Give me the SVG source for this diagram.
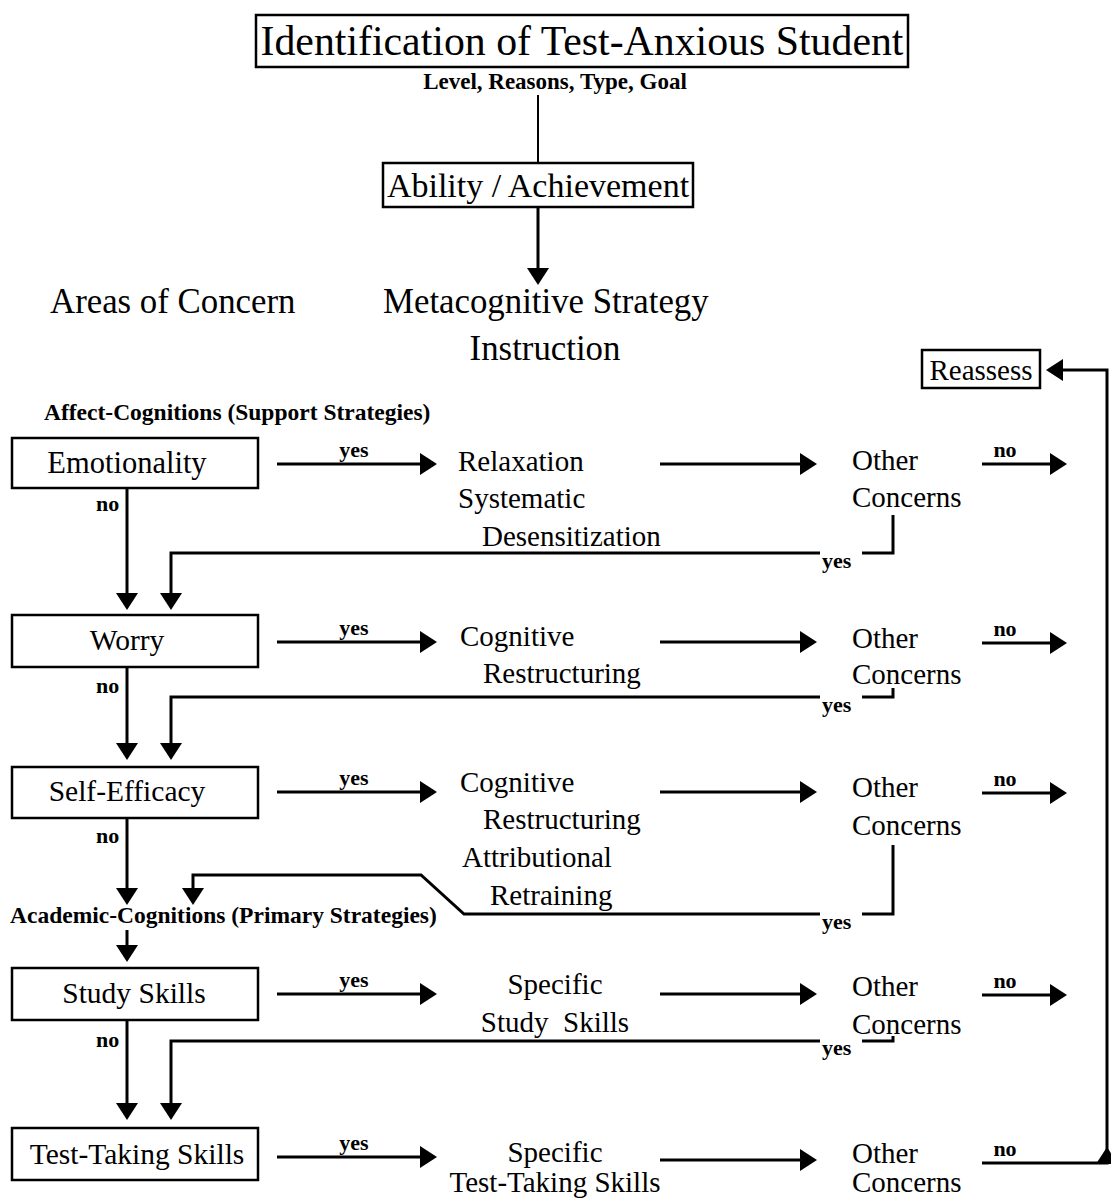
<svg xmlns="http://www.w3.org/2000/svg" width="1111" height="1200" viewBox="0 0 1111 1200">
<style>
.bg{fill:#fff}
.box{fill:#fff;stroke:#000;stroke-width:2.5}
.t{font-family:"Liberation Serif","Times New Roman",serif;fill:#000}
.big{font-size:34.8px}
.mid{font-size:29px}
.bx{font-size:29.5px}
.lbl{font-size:22px;font-weight:bold}
.hdr{font-size:23.5px;font-weight:bold}
.c{text-anchor:middle}
.ln{fill:none;stroke:#000;stroke-width:3}
.thin{fill:none;stroke:#000;stroke-width:2}
</style>
<defs>
<marker id="ah" viewBox="0 0 17 22" refX="14" refY="11" markerWidth="17" markerHeight="22" orient="auto" markerUnits="userSpaceOnUse">
<path d="M0,0 L17,11 L0,22 z" fill="#000"/>
</marker>
</defs>
<rect class="bg" x="0" y="0" width="1111" height="1200"/>

<g id="title">
<rect class="box" x="256" y="15" width="652" height="52"/>
<text class="t c" x="582" y="55" style="font-size:41.8px">Identification of Test-Anxious Student</text>
<text class="t c lbl" x="555" y="89" style="font-size:23px">Level, Reasons, Type, Goal</text>
</g>
<g id="ability">
<rect class="box" x="383" y="163" width="310" height="44"/>
<text class="t c" x="538" y="197" style="font-size:34px">Ability / Achievement</text>
</g>
<g id="areas"><text class="t big" x="50" y="313">Areas of Concern</text></g>
<g id="metacog">
<text class="t big" x="383" y="313">Metacognitive Strategy</text>
<text class="t c big" x="545" y="360">Instruction</text>
</g>
<g id="reassess">
<rect class="box" x="922" y="350" width="118" height="38"/>
<text class="t c" x="981" y="380" style="font-size:29px">Reassess</text>
</g>
<g id="affect-header"><text class="t hdr" x="44" y="420">Affect-Cognitions (Support Strategies)</text></g>
<g id="academic-header"><text class="t hdr" x="10" y="923">Academic-Cognitions (Primary Strategies)</text></g>

<g id="emotionality">
<rect class="box" x="12" y="438" width="246" height="50"/>
<text class="t c" x="127" y="473" style="font-size:30.5px">Emotionality</text>
</g>
<g id="relaxation">
<text class="t mid" x="458" y="471">Relaxation</text>
<text class="t mid" x="458" y="508">Systematic</text>
<text class="t mid" x="482" y="546">Desensitization</text>
</g>
<g id="other1">
<text class="t mid" x="852" y="470">Other</text>
<text class="t mid" x="852" y="507">Concerns</text>
</g>

<g id="worry">
<rect class="box" x="12" y="615" width="246" height="52"/>
<text class="t c bx" x="127" y="650">Worry</text>
</g>
<g id="cogres1">
<text class="t mid" x="460" y="646">Cognitive</text>
<text class="t mid" x="483" y="683">Restructuring</text>
</g>
<g id="other2">
<text class="t mid" x="852" y="648">Other</text>
<text class="t mid" x="852" y="684">Concerns</text>
</g>

<g id="selfefficacy">
<rect class="box" x="12" y="767" width="246" height="51"/>
<text class="t c bx" x="127" y="801">Self-Efficacy</text>
</g>
<g id="cogres2">
<text class="t mid" x="460" y="792">Cognitive</text>
<text class="t mid" x="483" y="829">Restructuring</text>
<text class="t mid" x="462" y="867">Attributional</text>
<text class="t mid" x="490" y="905">Retraining</text>
</g>
<g id="other3">
<text class="t mid" x="852" y="797">Other</text>
<text class="t mid" x="852" y="835">Concerns</text>
</g>

<g id="studyskills">
<rect class="box" x="12" y="968" width="246" height="52"/>
<text class="t c bx" x="134" y="1003">Study Skills</text>
</g>
<g id="specstudy">
<text class="t c mid" x="555" y="994">Specific</text>
<text class="t c mid" x="555" y="1032" xml:space="preserve">Study  Skills</text>
</g>
<g id="other4">
<text class="t mid" x="852" y="996">Other</text>
<text class="t mid" x="852" y="1034">Concerns</text>
</g>

<g id="testtaking">
<rect class="box" x="12" y="1128" width="246" height="52"/>
<text class="t c bx" x="137" y="1164">Test-Taking Skills</text>
</g>
<g id="spectest">
<text class="t c mid" x="555" y="1162">Specific</text>
<text class="t c mid" x="555" y="1192">Test-Taking Skills</text>
</g>
<g id="other5">
<text class="t mid" x="852" y="1163">Other</text>
<text class="t mid" x="852" y="1192">Concerns</text>
</g>

<g id="connectors">
<line class="thin" x1="538" y1="95" x2="538" y2="163"/>
<line class="ln" x1="538" y1="207" x2="538" y2="282" marker-end="url(#ah)"/>

<!-- row 1 -->
<line class="ln" x1="277" y1="464" x2="434" y2="464" marker-end="url(#ah)"/>
<text class="t c lbl" x="354" y="457">yes</text>
<line class="ln" x1="660" y1="464" x2="814" y2="464" marker-end="url(#ah)"/>
<line class="ln" x1="982" y1="464" x2="1064" y2="464" marker-end="url(#ah)"/>
<text class="t c lbl" x="1005" y="457">no</text>
<line class="ln" x1="127" y1="488" x2="127" y2="607" marker-end="url(#ah)"/>
<text class="t lbl" x="96" y="511">no</text>
<polyline class="ln" points="893,515 893,553 862,553"/>
<polyline class="ln" points="820,553 171,553 171,607" marker-end="url(#ah)"/>
<text class="t lbl" x="822" y="568">yes</text>

<!-- row 2 -->
<line class="ln" x1="277" y1="642" x2="434" y2="642" marker-end="url(#ah)"/>
<text class="t c lbl" x="354" y="635">yes</text>
<line class="ln" x1="660" y1="642" x2="814" y2="642" marker-end="url(#ah)"/>
<line class="ln" x1="982" y1="643" x2="1064" y2="643" marker-end="url(#ah)"/>
<text class="t c lbl" x="1005" y="636">no</text>
<line class="ln" x1="127" y1="667" x2="127" y2="757" marker-end="url(#ah)"/>
<text class="t lbl" x="96" y="693">no</text>
<polyline class="ln" points="893,688 893,697 862,697"/>
<polyline class="ln" points="820,697 171,697 171,757" marker-end="url(#ah)"/>
<text class="t lbl" x="822" y="712">yes</text>

<!-- row 3 -->
<line class="ln" x1="277" y1="792" x2="434" y2="792" marker-end="url(#ah)"/>
<text class="t c lbl" x="354" y="785">yes</text>
<line class="ln" x1="660" y1="792" x2="814" y2="792" marker-end="url(#ah)"/>
<line class="ln" x1="982" y1="793" x2="1064" y2="793" marker-end="url(#ah)"/>
<text class="t c lbl" x="1005" y="786">no</text>
<line class="ln" x1="127" y1="818" x2="127" y2="902" marker-end="url(#ah)"/>
<text class="t lbl" x="96" y="843">no</text>
<polyline class="ln" points="893,845 893,914 862,914"/>
<polyline class="ln" points="820,914 464,914 421,875 193,875 193,902" marker-end="url(#ah)"/>
<text class="t lbl" x="822" y="929">yes</text>
<line class="ln" x1="127" y1="930" x2="127" y2="959" marker-end="url(#ah)"/>

<!-- row 4 -->
<line class="ln" x1="277" y1="994" x2="434" y2="994" marker-end="url(#ah)"/>
<text class="t c lbl" x="354" y="987">yes</text>
<line class="ln" x1="660" y1="994" x2="814" y2="994" marker-end="url(#ah)"/>
<line class="ln" x1="982" y1="995" x2="1064" y2="995" marker-end="url(#ah)"/>
<text class="t c lbl" x="1005" y="988">no</text>
<line class="ln" x1="127" y1="1020" x2="127" y2="1117" marker-end="url(#ah)"/>
<text class="t lbl" x="96" y="1047">no</text>
<polyline class="ln" points="893,1036 893,1041 862,1041"/>
<polyline class="ln" points="820,1041 171,1041 171,1117" marker-end="url(#ah)"/>
<text class="t lbl" x="822" y="1055">yes</text>

<!-- row 5 -->
<line class="ln" x1="277" y1="1157" x2="434" y2="1157" marker-end="url(#ah)"/>
<text class="t c lbl" x="354" y="1150">yes</text>
<line class="ln" x1="660" y1="1160" x2="814" y2="1160" marker-end="url(#ah)"/>
<text class="t c lbl" x="1005" y="1156">no</text>
<polyline class="ln" points="982,1163 1107,1163 1107,1150" marker-end="url(#ah)"/>
<polyline class="ln" points="1107,1150 1107,370 1049,370" marker-end="url(#ah)"/>
</g>
</svg>
